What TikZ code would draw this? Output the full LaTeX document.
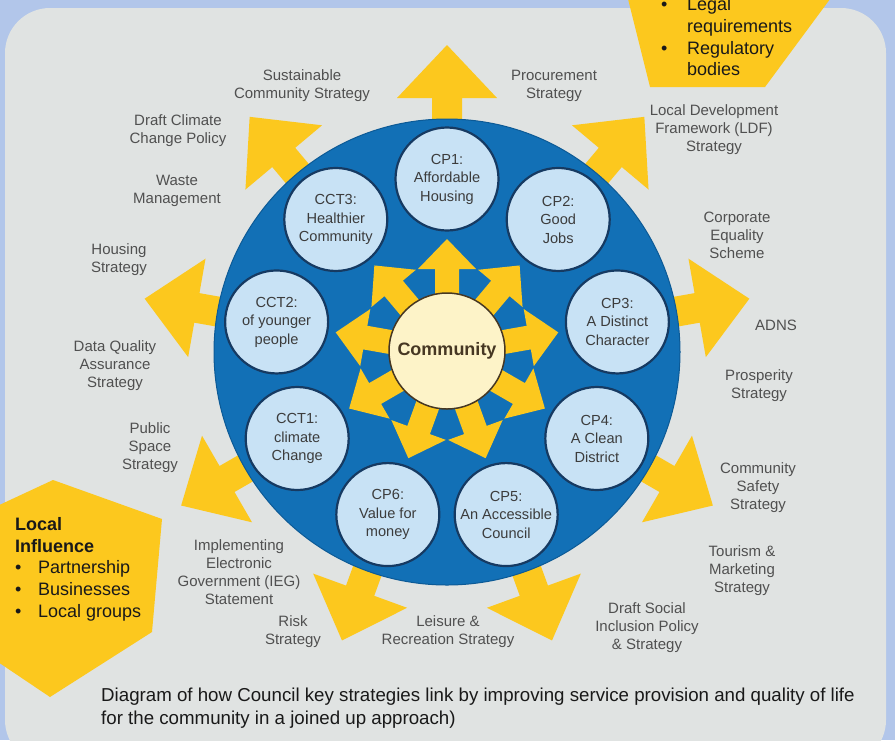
\documentclass[tikz,border=0pt]{standalone}
\usepackage{fontspec}
\setmainfont{Liberation Sans}
\definecolor{bgblue}{RGB}{178,198,234}
\definecolor{panelgray}{RGB}{224,227,226}
\definecolor{ayellow}{RGB}{252,200,30}
\definecolor{discblue}{RGB}{18,112,182}
\definecolor{discedge}{RGB}{12,90,150}
\definecolor{cpfill}{RGB}{200,226,245}
\definecolor{cpedge}{RGB}{22,58,98}
\definecolor{comfill}{RGB}{253,243,200}
\definecolor{comedge}{RGB}{70,55,35}
\definecolor{labelgray}{RGB}{80,80,80}
\definecolor{cptext}{RGB}{60,60,60}
\definecolor{calltext}{RGB}{25,25,25}
\begin{document}
\begin{tikzpicture}[x=1pt,y=-1pt,
  lbl/.style={font=\fontsize{15}{18}\selectfont, text=labelgray, align=center, inner sep=0pt},
  cpnode/.style={circle, fill=cpfill, draw=cpedge, line width=2.2pt, minimum size=103pt, inner sep=0pt,
     font=\fontsize{14.6}{18.5}\selectfont, text=cptext, align=center},
  calline/.style={font=\fontsize{18}{21}\selectfont, text=calltext, anchor=base west, inner sep=0pt},
  capline/.style={font=\fontsize{18.7}{22}\selectfont, text=calltext, anchor=base west, inner sep=0pt}]
\useasboundingbox (0,0) rectangle (895,740);
\fill[bgblue] (0,0) rectangle (895,740);
\fill[panelgray, rounded corners=45pt] (5,8) rectangle (886,765);
% outer arrows
\foreach \a in {90,50,10,-30,-70,-110,-150,170,130}{
  \begin{scope}[shift={(447,352)},rotate=\a]
    \fill[ayellow] (200,-15) -- (254,-15) -- (254,-50) -- (307,0) -- (254,50) -- (254,15) -- (200,15) -- cycle;
  \end{scope}}
% main disc
\node[circle, fill=discblue, draw=discedge, line width=1pt, minimum size=466pt, inner sep=0pt] (disc) at (447,352) {};
% inner star arrows
\foreach \a in {90,50,10,-30,-70,-110,-150,170,130}{
  \begin{scope}[shift={(447,352)},rotate=\a]
    \fill[ayellow] (40,-12) -- (83,-12) -- (83,-29) -- (113,0) -- (83,29) -- (83,12) -- (40,12) -- cycle;
  \end{scope}}
\node[circle, fill=comfill, draw=comedge, line width=1.5pt, minimum size=116pt, inner sep=0pt,
  font=\fontsize{18}{20}\selectfont\bfseries, text=comedge] (com) at (447,351) {Community};
% ring of circles
\foreach \a/\n/\t in {90/cp1/{CP1:\\Affordable\\Housing},
  50/cp2/{CP2:\\Good\\Jobs},
  10/cp3/{CP3:\\A Distinct\\Character},
  -30/cp4/{CP4:\\A Clean\\District},
  -70/cp5/{CP5:\\An Accessible\\Council},
  -110/cp6/{CP6:\\Value for\\money},
  -150/cct1/{CCT1:\\climate\\Change},
  170/cct2/{CCT2:\\of younger\\people},
  130/cct3/{CCT3:\\Healthier\\Community}}{
  \node[cpnode] (\n) at ({447+173*cos(\a)},{352-173*sin(\a)}) {\t};
}
% outer labels
\node[lbl] (l1) at (302,86) {Sustainable\\Community Strategy};
\node[lbl] (l2) at (554,86) {Procurement\\Strategy};
\node[lbl] (l3) at (178,131) {Draft Climate\\Change Policy};
\node[lbl] (l4) at (177,191) {Waste\\Management};
\node[lbl] (l5) at (119,260) {Housing\\Strategy};
\node[lbl] (l6) at (115,366) {Data Quality\\Assurance\\Strategy};
\node[lbl] (l7) at (150,448) {Public\\Space\\Strategy};
\node[lbl] (l8) at (239,572) {Implementing\\Electronic\\Government (IEG)\\Statement};
\node[lbl] (l9) at (293,632) {Risk\\Strategy};
\node[lbl] (l10) at (448,632) {Leisure \&\\Recreation Strategy};
\node[lbl] (l11) at (647,628) {Draft Social\\Inclusion Policy\\\& Strategy};
\node[lbl] (l12) at (742,571) {Tourism \&\\Marketing\\Strategy};
\node[lbl] (l13) at (758,488) {Community\\Safety\\Strategy};
\node[lbl] (l14) at (759,386) {Prosperity\\Strategy};
\node[lbl] (l15) at (776,325) {ADNS};
\node[lbl] (l16) at (737,235) {Corporate\\Equality\\Scheme};
\node[lbl] (l17) at (714,130) {Local Development\\Framework (LDF)\\Strategy};
% top-right callout
\fill[ayellow] (627,-5) -- (833,-5) -- (765,87) -- (650,87) -- cycle;
\node[calline] (tb1) at (661,10.3) {•};
\node[calline] (tt1) at (687,10.3) {Legal};
\node[calline] (tt2) at (687,32) {requirements};
\node[calline] (tb2) at (661,54) {•};
\node[calline] (tt3) at (687,54) {Regulatory};
\node[calline] (tt4) at (687,75.8) {bodies};
% bottom-left callout
\fill[ayellow] (-5,507) -- (53,480) -- (162,519) -- (152,632) -- (50,697) -- (-5,660) -- cycle;
\node[calline, font=\fontsize{18}{21}\selectfont\bfseries] (li1) at (15,530) {Local};
\node[calline, font=\fontsize{18}{21}\selectfont\bfseries] (li2) at (15,552) {Influence};
\node[calline] (lb1) at (15,573.7) {•};
\node[calline] (lt1) at (38,573.7) {Partnership};
\node[calline] (lb2) at (15,595.4) {•};
\node[calline] (lt2) at (38,595.4) {Businesses};
\node[calline] (lb3) at (15,617) {•};
\node[calline] (lt3) at (38,617) {Local groups};
% caption
\node[capline] (cap1) at (101,701.5) {Diagram of how Council key strategies link by improving service provision and quality of life};
\node[capline] (cap2) at (101,724.5) {for the community in a joined up approach)};
\end{tikzpicture}
\end{document}
